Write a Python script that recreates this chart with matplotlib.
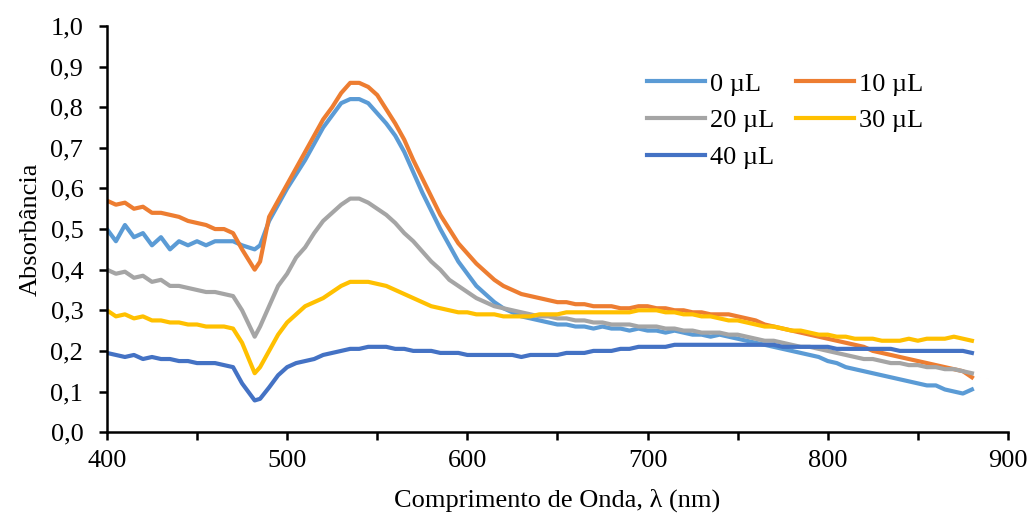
import numpy as np
import matplotlib
matplotlib.use("Agg")
from matplotlib import pyplot as plt
from matplotlib.ticker import MultipleLocator, FuncFormatter

plt.rcParams['font.family'] = ['Liberation Serif', 'DejaVu Serif']

# comprimentos de onda (nm), passo 5 nm, com o minimo em 482
wl = [400, 405, 410, 415, 420, 425, 430, 435, 440, 445, 450, 455, 460, 465, 470, 475, 482, 485,
      490, 495, 500, 505, 510, 515, 520, 525, 530, 535, 540, 545, 550, 555, 560, 565, 570, 575,
      580, 585, 590, 595, 600, 605, 610, 615, 620, 625, 630, 635, 640, 645, 650, 655, 660, 665,
      670, 675, 680, 685, 690, 695, 700, 705, 710, 715, 720, 725, 730, 735, 740, 745, 750, 755,
      760, 765, 770, 775, 780, 785, 790, 795, 800, 805, 810, 815, 820, 825, 830, 835, 840, 845,
      850, 855, 860, 865, 870, 875, 880]

abs_0 = [0.50, 0.47, 0.51, 0.48, 0.49, 0.46, 0.48, 0.45, 0.47, 0.46, 0.47, 0.46, 0.47, 0.47, 0.47, 0.46, 0.45, 0.46,
         0.52, 0.56, 0.60, 0.635, 0.67, 0.71, 0.75, 0.78, 0.81, 0.82, 0.82, 0.81, 0.785, 0.76, 0.73, 0.69, 0.64, 0.59,
         0.545, 0.50, 0.46, 0.42, 0.39, 0.36, 0.34, 0.32, 0.305, 0.295, 0.285, 0.28, 0.275, 0.27, 0.265, 0.265, 0.26, 0.26,
         0.255, 0.26, 0.255, 0.255, 0.25, 0.255, 0.25, 0.25, 0.245, 0.25, 0.245, 0.24, 0.24, 0.235, 0.24, 0.235, 0.23, 0.225,
         0.22, 0.215, 0.21, 0.205, 0.20, 0.195, 0.19, 0.185, 0.175, 0.17, 0.16, 0.155, 0.15, 0.145, 0.14, 0.135, 0.13, 0.125,
         0.12, 0.115, 0.115, 0.105, 0.10, 0.095, 0.105]

abs_10 = [0.57, 0.56, 0.565, 0.55, 0.555, 0.54, 0.54, 0.535, 0.53, 0.52, 0.515, 0.51, 0.50, 0.50, 0.49, 0.45, 0.40, 0.42,
          0.53, 0.57, 0.61, 0.65, 0.69, 0.73, 0.77, 0.80, 0.835, 0.86, 0.86, 0.85, 0.83, 0.795, 0.76, 0.72, 0.67, 0.625,
          0.58, 0.535, 0.50, 0.465, 0.44, 0.415, 0.395, 0.375, 0.36, 0.35, 0.34, 0.335, 0.33, 0.325, 0.32, 0.32, 0.315, 0.315,
          0.31, 0.31, 0.31, 0.305, 0.305, 0.31, 0.31, 0.305, 0.305, 0.30, 0.30, 0.295, 0.295, 0.29, 0.29, 0.29, 0.285, 0.28,
          0.275, 0.265, 0.26, 0.255, 0.25, 0.245, 0.24, 0.235, 0.23, 0.225, 0.22, 0.215, 0.21, 0.20, 0.195, 0.19, 0.185, 0.18,
          0.175, 0.17, 0.165, 0.16, 0.155, 0.15, 0.135]

abs_20 = [0.40, 0.39, 0.395, 0.38, 0.385, 0.37, 0.375, 0.36, 0.36, 0.355, 0.35, 0.345, 0.345, 0.34, 0.335, 0.30, 0.235, 0.26,
          0.31, 0.36, 0.39, 0.43, 0.455, 0.49, 0.52, 0.54, 0.56, 0.575, 0.575, 0.565, 0.55, 0.535, 0.515, 0.49, 0.47, 0.445,
          0.42, 0.40, 0.375, 0.36, 0.345, 0.33, 0.32, 0.31, 0.305, 0.30, 0.295, 0.29, 0.285, 0.285, 0.28, 0.28, 0.275, 0.275,
          0.27, 0.27, 0.265, 0.265, 0.265, 0.26, 0.26, 0.26, 0.255, 0.255, 0.25, 0.25, 0.245, 0.245, 0.245, 0.24, 0.24, 0.235,
          0.23, 0.225, 0.225, 0.22, 0.215, 0.21, 0.21, 0.205, 0.20, 0.195, 0.19, 0.185, 0.18, 0.18, 0.175, 0.17, 0.17, 0.165,
          0.165, 0.16, 0.16, 0.155, 0.155, 0.15, 0.145]

abs_30 = [0.30, 0.285, 0.29, 0.28, 0.285, 0.275, 0.275, 0.27, 0.27, 0.265, 0.265, 0.26, 0.26, 0.26, 0.255, 0.22, 0.145, 0.16,
          0.20, 0.24, 0.27, 0.29, 0.31, 0.32, 0.33, 0.345, 0.36, 0.37, 0.37, 0.37, 0.365, 0.36, 0.35, 0.34, 0.33, 0.32,
          0.31, 0.305, 0.30, 0.295, 0.295, 0.29, 0.29, 0.29, 0.285, 0.285, 0.285, 0.285, 0.29, 0.29, 0.29, 0.295, 0.295, 0.295,
          0.295, 0.295, 0.295, 0.295, 0.295, 0.30, 0.30, 0.30, 0.295, 0.295, 0.29, 0.29, 0.285, 0.285, 0.28, 0.275, 0.275, 0.27,
          0.265, 0.26, 0.26, 0.255, 0.25, 0.25, 0.245, 0.24, 0.24, 0.235, 0.235, 0.23, 0.23, 0.23, 0.225, 0.225, 0.225, 0.23,
          0.225, 0.23, 0.23, 0.23, 0.235, 0.23, 0.225]

abs_40 = [0.195, 0.19, 0.185, 0.19, 0.18, 0.185, 0.18, 0.18, 0.175, 0.175, 0.17, 0.17, 0.17, 0.165, 0.16, 0.12, 0.078, 0.082,
          0.11, 0.14, 0.16, 0.17, 0.175, 0.18, 0.19, 0.195, 0.20, 0.205, 0.205, 0.21, 0.21, 0.21, 0.205, 0.205, 0.20, 0.20,
          0.20, 0.195, 0.195, 0.195, 0.19, 0.19, 0.19, 0.19, 0.19, 0.19, 0.185, 0.19, 0.19, 0.19, 0.19, 0.195, 0.195, 0.195,
          0.20, 0.20, 0.20, 0.205, 0.205, 0.21, 0.21, 0.21, 0.21, 0.215, 0.215, 0.215, 0.215, 0.215, 0.215, 0.215, 0.215, 0.215,
          0.215, 0.215, 0.215, 0.21, 0.21, 0.21, 0.21, 0.21, 0.21, 0.205, 0.205, 0.205, 0.205, 0.205, 0.205, 0.205, 0.20, 0.20,
          0.20, 0.20, 0.20, 0.20, 0.20, 0.20, 0.195]

labels = ['0 µL', '10 µL', '20 µL', '30 µL', '40 µL']
cores = ['#5B9BD5', '#ED7D31', '#A5A5A5', '#FFC000', '#4472C4']
series = [abs_0, abs_10, abs_20, abs_30, abs_40]

fig = plt.figure(figsize=(10.28, 5.2), dpi=100)
ax = fig.add_axes([0.104, 0.169, 0.8765, 0.781])

linhas = []
for y, lab, c in zip(series, labels, cores):
    l, = ax.plot(wl, y, color=c, lw=3, label=lab)
    linhas.append(l)

ax.set_xlim(400, 900)
ax.set_ylim(0, 1.0)
ax.xaxis.set_major_locator(MultipleLocator(100))
ax.xaxis.set_minor_locator(MultipleLocator(50))
ax.yaxis.set_major_locator(MultipleLocator(0.1))
ax.yaxis.set_major_formatter(FuncFormatter(lambda v, p: f"{v:.1f}".replace('.', ',')))

for s in ['top', 'right']:
    ax.spines[s].set_visible(False)
for s in ['left', 'bottom']:
    ax.spines[s].set_linewidth(1.8)
ax.tick_params(which='both', direction='out', length=6, width=1.8, labelsize=19)
ax.tick_params(axis='x', pad=7)
ax.tick_params(axis='y', pad=11)

ax.set_xlabel('Comprimento de Onda, λ (nm)', fontsize=19, labelpad=12)
ax.set_ylabel('Absorbância', fontsize=19, labelpad=6)

# ordem por linhas como no original
ordem = [0, 2, 4, 1, 3]
ax.legend([linhas[i] for i in ordem], [labels[i] for i in ordem], ncol=2, frameon=False,
          fontsize=19, loc='upper left', bbox_to_anchor=(0.573, 0.945), handlelength=2.2,
          handletextpad=0.2, columnspacing=0.8, labelspacing=0.5)

fig.savefig('out.png', dpi=100)
